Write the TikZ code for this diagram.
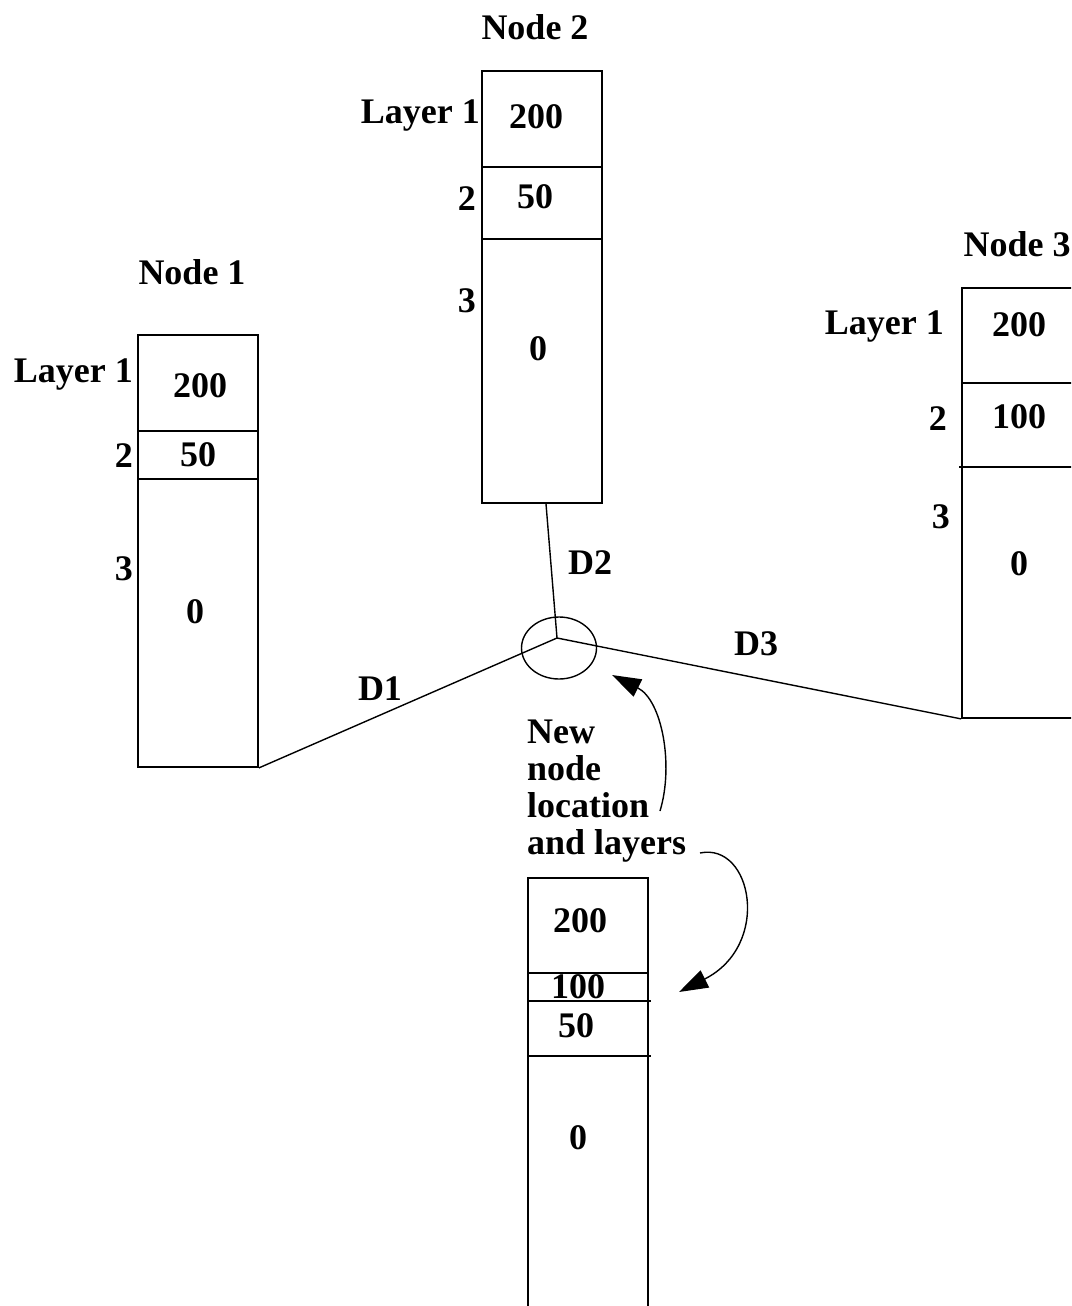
\documentclass[tikz,border=0pt]{standalone}
\usepackage{fontspec}
\setmainfont{Liberation Serif}
\usetikzlibrary{shapes.geometric,arrows.meta,positioning}

\begin{document}
\begin{tikzpicture}[
    x=1pt, y=-1pt,
    every node/.style={font=\bfseries\fontsize{36}{37}\selectfont},
    box/.style={rectangle, draw, line width=1.8pt, minimum width=120, inner sep=0pt},
    txt/.style={inner sep=0pt, text height=24pt, text depth=0pt},
    rule/.style={line width=1.8pt},
    link/.style={line width=1.4pt},
    curvearrow/.style={line width=1.4pt, -{Triangle[length=29pt, width=19pt]}}
]
\clip (0,0) rectangle (1071,1306);

% Node 1
\node[txt] (title1) at (192,272) {Node 1};
\node[box, minimum height=432] (node1) at (198,551) {};
\draw[rule] (138,431) -- (258,431);
\draw[rule] (138,479) -- (258,479);
\node[txt, anchor=east] (lay11) at (133,370) {Layer 1};
\node[txt, anchor=east] (lay12) at (133,455) {2};
\node[txt, anchor=east] (lay13) at (133,568) {3};
\node[txt] (val11) at (200,385) {200};
\node[txt] (val12) at (198,454) {50};
\node[txt] (val13) at (195,611) {0};

% Node 2
\node[txt] (title2) at (535,28) {Node 2};
\node[box, minimum height=432] (node2) at (542,287) {};
\draw[rule] (482,167) -- (602,167);
\draw[rule] (482,239) -- (602,239);
\node[txt, anchor=east] (lay21) at (480,111) {Layer 1};
\node[txt, anchor=east] (lay22) at (476,198) {2};
\node[txt, anchor=east] (lay23) at (476,300) {3};
\node[txt] (val21) at (536,116) {200};
\node[txt] (val22) at (535,196) {50};
\node[txt] (val23) at (538,348) {0};

% Node 3
\node[txt] (title3) at (1017,244) {Node 3};
\node[box, minimum height=430] (node3) at (1022,503) {};
\draw[rule] (962,383) -- (1082,383);
\draw[rule] (959,467) -- (1082,467);
\node[txt, anchor=east] (lay31) at (944,322) {Layer 1};
\node[txt, anchor=east] (lay32) at (947,418) {2};
\node[txt, anchor=east] (lay33) at (950,516) {3};
\node[txt] (val31) at (1019,324) {200};
\node[txt] (val32) at (1019,416) {100};
\node[txt] (val33) at (1019,563) {0};

% New node site
\coordinate (centre) at (557,638);
\node[ellipse, draw, line width=1.4pt, minimum width=75, minimum height=62, inner sep=0pt] (site) at (559,648) {};
\draw[link] (node1.south east) -- (centre);
\draw[link] ([xshift=4]node2.south) -- (centre);
\draw[link] (centre) -- (node3.south west);
\node[txt] (d1) at (380,688) {D1};
\node[txt] (d2) at (590,562) {D2};
\node[txt] (d3) at (756,643) {D3};

% Caption and arrows
\node[inner sep=0pt, anchor=north west, align=left] (newtext) at (527,720) {New\\node\\location\\and layers};
\coordinate (from1) at (660,811);
\coordinate (to1) at (612,675);
\coordinate (from2) at (700,853);
\coordinate (to2) at (679,992);
\draw[curvearrow] (from1) .. controls (674,765) and (662,700) .. (to1);
\draw[curvearrow] (from2) .. controls (752,842) and (772,945) .. (to2);

% New node
\node[box, minimum height=452] (node4) at (588,1104) {};
\draw[rule] (528,973) -- (648,973);
\draw[rule] (528,1001) -- (651,1001);
\draw[rule] (528,1056) -- (651,1056);
\node[txt] (val41) at (580,920) {200};
\node[txt] (val42) at (578,986) {100};
\node[txt] (val43) at (576,1025) {50};
\node[txt] (val44) at (578,1137) {0};

\end{tikzpicture}
\end{document}
